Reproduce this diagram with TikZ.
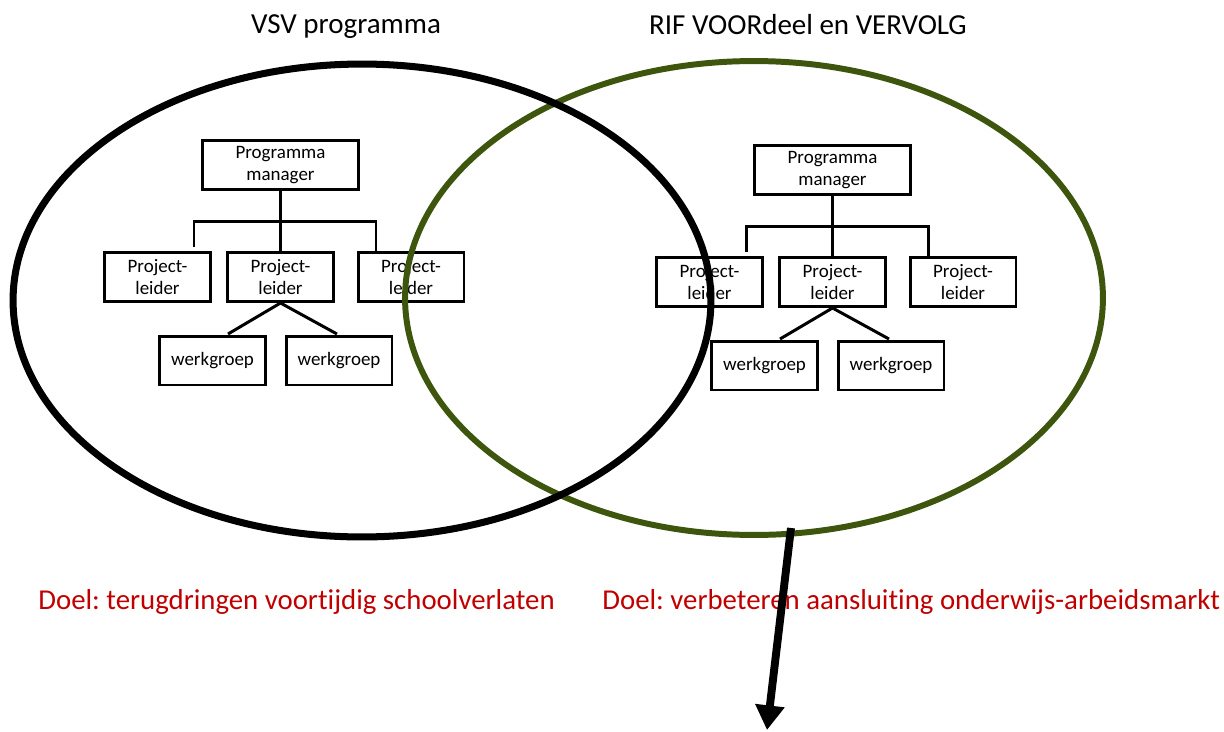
\documentclass[tikz,border=0pt]{standalone}
\usepackage{fontspec}
\setmainfont{Carlito}[Ligatures=NoCommon]
\usetikzlibrary{arrows.meta}

\definecolor{rifgreen}{RGB}{62,85,14}
\definecolor{doelred}{RGB}{192,0,0}

\tikzset{
  orgbox/.style={draw, fill=white, line width=1.7pt, align=center, inner sep=0pt,
    minimum height=0.98cm, font=\fontsize{10.8}{12.3}\selectfont},
  pmbox/.style={orgbox, minimum width=3.12cm},
  plbox/.style={orgbox, minimum width=2.12cm},
  orgline/.style={line width=1.7pt},
  titel/.style={font=\fontsize{16.5}{19}\selectfont, anchor=base, inner sep=0pt},
  doel/.style={font=\fontsize{16.4}{19}\selectfont, text=doelred, anchor=base west, inner sep=0pt},
}

\begin{document}
\frenchspacing
\begin{tikzpicture}[x=0.02cm, y=-0.02cm]
        \useasboundingbox (0,0) rectangle (1224,731);

        % Organogrammen (links VSV, rechts RIF)
        \foreach \s/\dx/\dy in {L/0/0, R/552/5} {
            \begin{scope}[shift={(\dx,\dy)}]
                \node[pmbox] (pm\s) at (280.5,165) {Programma\\manager};
                \node[plbox] (pl\s1) at (157.5,277) {Project-\\leider};
                \node[plbox] (pl\s2) at (280.5,277) {Project-\\leider};
                \node[plbox] (pl\s3) at (411,277) {Project-\\leider};
                \node[plbox] (wg\s1) at (212.5,360.5) {werkgroep};
                \node[plbox] (wg\s2) at (339,360.5) {werkgroep};

                \coordinate (bar\s) at (280.5,221);
                \coordinate (barW\s) at (194,247);
                \coordinate (barE\s) at (376,251);
                \coordinate (wgin\s1) at (228,334);
                \coordinate (wgin\s2) at (337,334);

                \draw[orgline] (pm\s.south) -- (pl\s2.north);
                \draw[orgline] (barW\s) |- (bar\s) -| (barE\s);
                \draw[orgline] (pl\s2.south) -- (wgin\s1);
                \draw[orgline] (pl\s2.south) -- (wgin\s2);
            \end{scope}
        }

        % Ellipsen
        \draw[rifgreen, line width=3.4pt] (754,298) ellipse [x radius=6.98cm, y radius=4.74cm];
        \draw[black, line width=4pt] (362,300.5) ellipse [x radius=6.98cm, y radius=4.73cm];

        % Titels
        \node[titel] (vsv) at (346,33) {VSV programma};
        \node[titel] (rif) at (808,34) {RIF VOORdeel en VERVOLG};

        % Doelen
        \node[doel] (doelL) at (38,609) {Doel: terugdringen voortijdig schoolverlaten};
        \node[doel] (doelR) at (602,609) {Doel: verbeteren aansluiting onderwijs-arbeidsmarkt};

        % Pijl
        \coordinate (pijlstart) at (791,528);
        \coordinate (pijleind) at (767,730);
        \draw[line width=4.5pt, -{Triangle[width=16pt, length=14pt]}] (pijlstart) -- (pijleind);
      \end{tikzpicture}
\end{document}
